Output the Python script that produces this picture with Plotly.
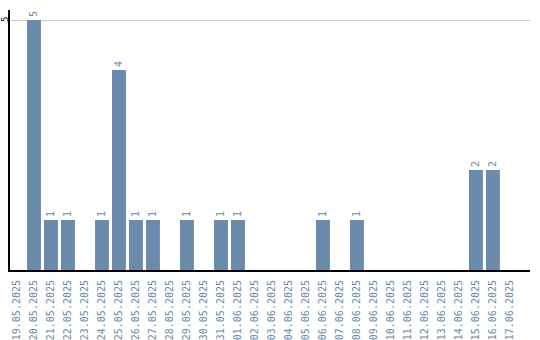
import plotly.graph_objects as go

dates = ["19.05.2025","20.05.2025","21.05.2025","22.05.2025","23.05.2025","24.05.2025",
         "25.05.2025","26.05.2025","27.05.2025","28.05.2025","29.05.2025","30.05.2025",
         "31.05.2025","01.06.2025","02.06.2025","03.06.2025","04.06.2025","05.06.2025",
         "06.06.2025","07.06.2025","08.06.2025","09.06.2025","10.06.2025","11.06.2025",
         "12.06.2025","13.06.2025","14.06.2025","15.06.2025","16.06.2025","17.06.2025"]
counts = [0,5,1,1,0,1,4,1,1,0,1,0,1,1,0,0,0,0,1,0,1,0,0,0,0,0,0,2,2,0]
y_ticks = [5]

bar_color = "#6a8bab"
labels = [str(v) if v else "" for v in counts]

fig = go.Figure(go.Bar(
    x=dates, y=counts, text=labels, textposition="outside", textangle=-90,
    textfont=dict(family="DejaVu Sans Mono", size=10, color=bar_color),
    marker=dict(color=bar_color, line=dict(width=0)),
    width=0.82, cliponaxis=False,
))
for t in y_ticks:
    fig.add_annotation(x=0, xref="paper", y=t, yref="y", text=str(t), textangle=-90,
                       showarrow=False, xanchor="center", yanchor="middle", xshift=-5,
                       font=dict(family="DejaVu Sans Mono", size=9, color="black"))
fig.update_layout(
    width=540, height=340, margin=dict(l=10, r=10, t=10, b=70),
    paper_bgcolor="white", plot_bgcolor="white", showlegend=False,
    xaxis=dict(type="category", range=[-0.41, 30.18], tickangle=-90, automargin=False,
               tickfont=dict(family="DejaVu Sans Mono", size=10, color=bar_color),
               showline=True, linecolor="black", linewidth=2, ticks="",
               ticklabelstandoff=4, showgrid=False),
    yaxis=dict(range=[0, 5.2], tickvals=y_ticks, showticklabels=False, automargin=False,
               showline=True, linecolor="black", linewidth=2, ticks="",
               showgrid=True, gridcolor="#cccccc", gridwidth=1, zeroline=False),
)
fig.write_html("out.html")
